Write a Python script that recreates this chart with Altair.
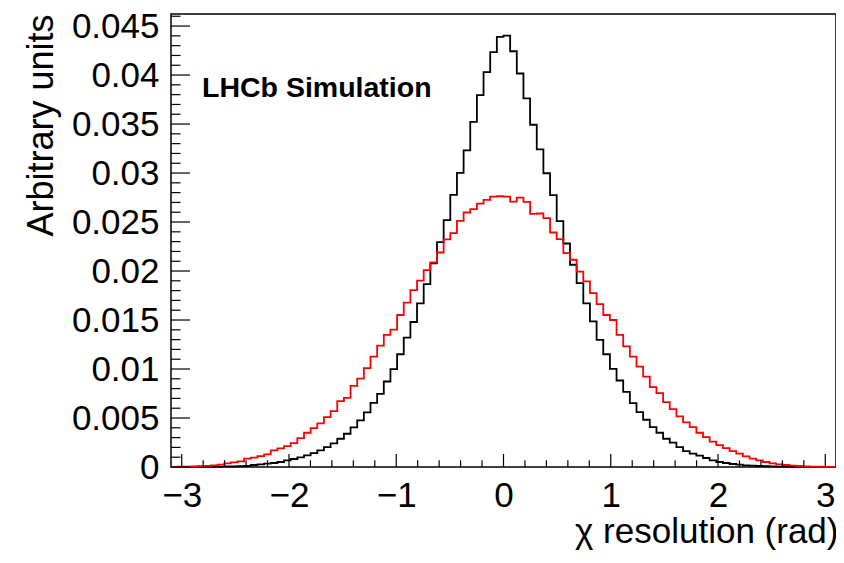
import altair as alt
import numpy as np
import pandas as pd

# ---- data (100 bins from -3.1 to 3.1) ----
x_min, x_max, n_bins = -3.1, 3.1, 100

black_vals = [
    0.000010, 0.000014, 0.000017, 0.000020, 0.000024, 0.000030, 0.000037, 0.000044, 0.000054, 0.000068,
    0.000092, 0.000119, 0.000204, 0.000272, 0.000339, 0.000407, 0.000509, 0.000679, 0.000815, 0.000984,
    0.001188, 0.001426, 0.001697, 0.002037, 0.002410, 0.002885, 0.003394, 0.004039, 0.004752, 0.005567,
    0.006551, 0.007468, 0.008724, 0.009980, 0.011507, 0.013204, 0.014800, 0.016700, 0.018670, 0.020774,
    0.022946, 0.025187, 0.027770, 0.030010, 0.032320, 0.035230, 0.037950, 0.040290, 0.042330, 0.043890,
    0.044030, 0.042430, 0.040160, 0.037610, 0.034930, 0.032420, 0.029980, 0.027740, 0.025085, 0.022810,
    0.020638, 0.018771, 0.016700, 0.014868, 0.012967, 0.011507, 0.010014, 0.008826, 0.007671, 0.006517,
    0.005601, 0.004820, 0.004073, 0.003496, 0.002885, 0.002478, 0.002037, 0.001629, 0.001358, 0.001154,
    0.000917, 0.000679, 0.000509, 0.000407, 0.000305, 0.000238, 0.000170, 0.000136, 0.000102, 0.000075,
    0.000058, 0.000044, 0.000034, 0.000027, 0.000020, 0.000017, 0.000014, 0.000010, 0.000007, 0.000007,
]

red_vals = [
    0.000017, 0.000024, 0.000034, 0.000051, 0.000085, 0.000119, 0.000170, 0.000238, 0.000373, 0.000475,
    0.000577, 0.000849, 0.000950, 0.001120, 0.001290, 0.001697, 0.001901, 0.002138, 0.002444, 0.002953,
    0.003496, 0.003972, 0.004447, 0.005092, 0.005703, 0.006721, 0.007060, 0.008282, 0.009029, 0.010081,
    0.011270, 0.012390, 0.013480, 0.014020, 0.015510, 0.016770, 0.018060, 0.019010, 0.020100, 0.020880,
    0.021890, 0.023220, 0.023860, 0.025120, 0.025970, 0.026310, 0.026880, 0.027260, 0.027600, 0.027630,
    0.027600, 0.027090, 0.027500, 0.027050, 0.025830, 0.025870, 0.025390, 0.023930, 0.023250, 0.021830,
    0.021150, 0.019930, 0.018940, 0.017750, 0.016630, 0.015510, 0.015000, 0.013480, 0.012320, 0.011270,
    0.010251, 0.009233, 0.008147, 0.007536, 0.006619, 0.005906, 0.005160, 0.004549, 0.004073, 0.003496,
    0.003055, 0.002580, 0.002240, 0.001935, 0.001629, 0.001358, 0.001086, 0.000849, 0.000679, 0.000509,
    0.000373, 0.000272, 0.000204, 0.000136, 0.000102, 0.000068, 0.000044, 0.000027, 0.000017, 0.000010,
]

x_labels = [-3, -2, -1, 0, 1, 2, 3]
y_labels = [0, 0.005, 0.01, 0.015, 0.02, 0.025, 0.03, 0.035, 0.04, 0.045]
y_max = 0.04623

x_title = "χ resolution (rad)"
y_title = "Arbitrary units"
label_text = "LHCb Simulation"

# ---- build tables ----
edges = np.linspace(x_min, x_max, n_bins + 1)


def step_table(vals, name):
    xs = list(edges[:-1]) + [edges[-1]]
    ys = list(vals) + [vals[-1]]
    return pd.DataFrame({"x": xs, "y": ys, "s": name})


lines_df = pd.concat([step_table(black_vals, "b"), step_table(red_vals, "r")], ignore_index=True)

W, H = 665, 453
FONT = "Liberation Sans"

xscale = alt.Scale(domain=[x_min, x_max], nice=False, zero=False)
yscale = alt.Scale(domain=[0, y_max], nice=False, zero=True)

x_axis = alt.Axis(
    values=x_labels, format="~g", ticks=False, domain=False, grid=False,
    labelFont=FONT, labelFontSize=35, labelColor="black", labelPadding=11,
    labelFlush=False, labelOverlap=False,
    title=x_title, titleFont=FONT, titleFontSize=35, titleFontWeight="normal",
    titleColor="black", titleAlign="right", titleAnchor="end",
    titleX=W + 2, titleY=75, titleBaseline="alphabetic",
)
y_axis = alt.Axis(
    values=y_labels, format="~g", ticks=False, domain=False, grid=False,
    labelFont=FONT, labelFontSize=35, labelColor="black", labelPadding=12,
    labelFlush=False, labelOverlap=False,
    title=y_title, titleFont=FONT, titleFontSize=36, titleFontWeight="normal",
    titleColor="black", titleAngle=270, titleAlign="right", titleAnchor="end",
    titleX=-119, titleY=0, titleBaseline="alphabetic",
)

lines = alt.Chart(lines_df).mark_line(
    interpolate="step-after", strokeWidth=1.8
).encode(
    x=alt.X("x:Q", scale=xscale, axis=x_axis),
    y=alt.Y("y:Q", scale=yscale, axis=y_axis),
    color=alt.Color("s:N", scale=alt.Scale(domain=["b", "r"], range=["black", "#ff0000"]), legend=None),
    order=alt.Order("s:N"),
)

# inward tick marks (ROOT style)
x_major = pd.DataFrame({"x": x_labels})
x_minor = pd.DataFrame({"x": [round(-3 + 0.2 * i, 2) for i in range(31) if i % 5 != 0]})
y_major = pd.DataFrame({"y": y_labels})
y_minor = pd.DataFrame({"y": [round(0.001 * i, 3) for i in range(47) if i % 5 != 0]})

xt_major = alt.Chart(x_major).mark_rule(color="black", strokeWidth=1.2).encode(
    x=alt.X("x:Q", scale=xscale, axis=x_axis), y=alt.value(H), y2=alt.value(H - 13))
xt_minor = alt.Chart(x_minor).mark_rule(color="black", strokeWidth=1.2).encode(
    x=alt.X("x:Q", scale=xscale, axis=x_axis), y=alt.value(H), y2=alt.value(H - 6.7))
yt_major = alt.Chart(y_major).mark_rule(color="black", strokeWidth=1.2).encode(
    y=alt.Y("y:Q", scale=yscale, axis=y_axis), x=alt.value(0), x2=alt.value(19))
yt_minor = alt.Chart(y_minor).mark_rule(color="black", strokeWidth=1.2).encode(
    y=alt.Y("y:Q", scale=yscale, axis=y_axis), x=alt.value(0), x2=alt.value(9.5))

label = alt.Chart(pd.DataFrame({"txt": [label_text]})).mark_text(
    font=FONT, fontSize=28.5, fontWeight="bold", align="left", baseline="alphabetic", color="black"
).encode(text="txt:N", x=alt.value(31), y=alt.value(83))

chart = alt.layer(
    lines, xt_major, xt_minor, yt_major, yt_minor, label
).properties(
    width=W, height=H,
    autosize=alt.AutoSizeParams(type="none"),
    padding={"left": 163, "top": 6, "right": 0, "bottom": 88},
    background="white",
).configure_view(stroke="black", strokeWidth=1.5)

chart.save("out.html", embed_options={"renderer": "svg", "actions": False})
